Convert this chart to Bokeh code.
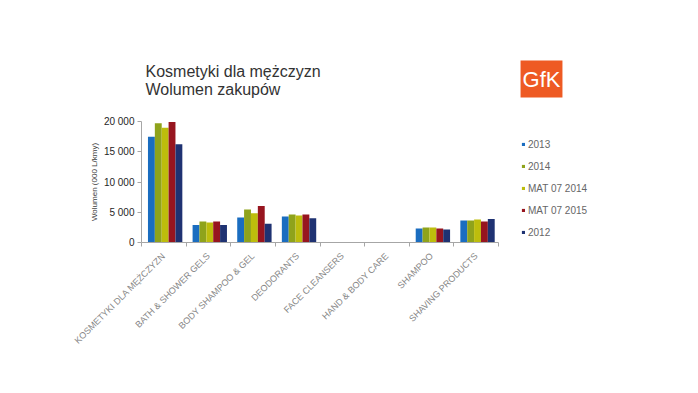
import numpy as np
from bokeh.plotting import figure
from bokeh.models import (ColumnDataSource, Range1d, FixedTicker, Legend, LegendItem, Label)
from bokeh.transform import dodge
from bokeh.embed import file_html
from bokeh.resources import INLINE

# ---- data ----
categories = ["KOSMETYKI DLA MĘŻCZYZN", "BATH & SHOWER GELS", "BODY SHAMPOO & GEL",
              "DEODORANTS", "FACE CLEANSERS", "HAND & BODY CARE", "SHAMPOO",
              "SHAVING PRODUCTS"]
series_names = ["2013", "2014", "MAT 07 2014", "MAT 07 2015", "2012"]
v2013 = [17500, 2900, 4130, 4300, 0, 0, 2310, 3640]
v2014 = [19700, 3470, 5450, 4630, 0, 0, 2480, 3640]
vmat2014 = [18950, 3300, 4840, 4460, 0, 0, 2480, 3800]
vmat2015 = [19930, 3470, 6050, 4630, 0, 0, 2310, 3470]
v2012 = [16250, 2900, 3080, 4020, 0, 0, 2150, 3900]
y_ticks = [0, 5000, 10000, 15000, 20000]
y_tick_labels = ["0", "5 000", "10 000", "15 000", "20 000"]
y_max = 20000
title_lines = ["Kosmetyki dla mężczyzn", "Wolumen zakupów"]
logo_text = "GfK"
y_axis_title = "Wolumen (000 L/kmy)"

colors = ["#1A6DC0", "#8FA31B", "#BDBD0C", "#97151F", "#1F3272"]

FONT = "Liberation Sans"
W, H = 682, 377
# plot area of the axes (pixels) and the larger frame that also holds title/legend/logo
AX_W, AX_H = 357, 121
LEFT, TOP, BOTTOM = 141, 49, 135
FW = W - LEFT
FH = H - TOP - BOTTOM
n = len(categories)
x_end = n * FW / AX_W
y_end = y_max * FH / AX_H

pos = np.arange(n) + 0.5
src = ColumnDataSource(dict(x=pos, s0=v2013, s1=v2014, s2=vmat2014, s3=vmat2015, s4=v2012))

p = figure(width=W, height=H, output_backend="svg", toolbar_location=None,
           x_range=Range1d(0, x_end), y_range=Range1d(0, y_end),
           min_border_left=LEFT, min_border_right=0, min_border_top=TOP,
           min_border_bottom=BOTTOM)
p.title_location = None
p.outline_line_color = None
p.xgrid.visible = False
p.ygrid.visible = False

bw = 0.154
offsets = [-2 * bw, -bw, 0, bw, 2 * bw]
renderers = []
for i, col in enumerate(colors):
    r = p.vbar(x=dodge("x", offsets[i] + 0.03), top=f"s{i}", width=bw, source=src,
               fill_color=col, line_color=None)
    renderers.append(r)

# x axis
xa = p.xaxis[0]
xa.bounds = (0, n)
xa.ticker = FixedTicker(ticks=list(pos), minor_ticks=list(range(n + 1)))
xa.major_label_overrides = {float(pp): c for pp, c in zip(pos, categories)}
xa.major_tick_line_color = None
xa.major_tick_out = 4
xa.minor_tick_out = 4
xa.minor_tick_in = 0
xa.minor_tick_line_color = "#A6A6A6"
xa.axis_line_color = "#A6A6A6"
xa.major_label_orientation = np.pi / 4
xa.major_label_standoff = 8
xa.major_label_text_font = FONT
xa.major_label_text_font_size = "9px"
xa.major_label_text_color = "#858585"

# y axis
ya = p.yaxis[0]
ya.bounds = (0, y_max)
ya.ticker = FixedTicker(ticks=y_ticks)
ya.major_label_overrides = {t: l for t, l in zip(y_ticks, y_tick_labels)}
ya.minor_tick_line_color = None
ya.major_tick_out = 4
ya.major_tick_in = 0
ya.major_tick_line_color = "#A6A6A6"
ya.axis_line_color = "#A6A6A6"
ya.major_label_standoff = 3
ya.major_label_text_font = FONT
ya.major_label_text_font_size = "10px"
ya.major_label_text_color = "#262626"

# y axis title, centred on the axis bounds, in the left panel
p.add_layout(Label(x=3, y=60.5, x_units="screen", y_units="screen", text=y_axis_title,
                   angle=np.pi / 2, text_align="center", text_baseline="middle",
                   text_font=FONT, text_font_size="8px", text_color="#404040"), "left")

# legend
legend = Legend(items=[LegendItem(label=s, renderers=[r]) for s, r in zip(series_names, renderers)],
                location=(380, -1), orientation="vertical", glyph_width=4, glyph_height=4,
                label_height=22, spacing=0, padding=0, margin=0, border_line_color=None,
                background_fill_alpha=0, label_standoff=3, label_text_font=FONT,
                label_text_font_size="10px", label_text_color="#666666")
p.add_layout(legend)

# title lines
for t, yy in zip(title_lines, [171, 153]):
    p.add_layout(Label(x=4, y=yy, x_units="screen", y_units="screen", text=t,
                       text_font=FONT, text_font_size="16px", text_color="#333333",
                       text_baseline="alphabetic"))
# logo
p.add_layout(Label(x=400, y=163.5, x_units="screen", y_units="screen", text=logo_text,
                   text_font=FONT, text_font_size="22px", text_color="white",
                   text_align="center", text_baseline="middle",
                   background_fill_color="#EE5A23", padding=(2, 6)))

open("out.html", "w").write(file_html(p, INLINE))
